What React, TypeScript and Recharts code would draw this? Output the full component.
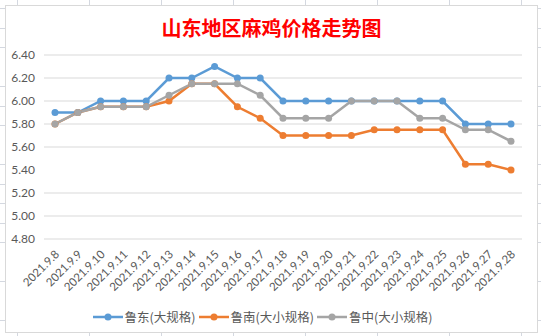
import React from "react";
import { LineChart, Line, XAxis, YAxis, CartesianGrid, Legend } from "recharts";

const dates = [
  "2021.9.8", "2021.9.9", "2021.9.10", "2021.9.11", "2021.9.12", "2021.9.13", "2021.9.14",
  "2021.9.15", "2021.9.16", "2021.9.17", "2021.9.18", "2021.9.19", "2021.9.20", "2021.9.21",
  "2021.9.22", "2021.9.23", "2021.9.24", "2021.9.25", "2021.9.26", "2021.9.27", "2021.9.28",
];
const ludong = [5.9, 5.9, 6.0, 6.0, 6.0, 6.2, 6.2, 6.3, 6.2, 6.2, 6.0, 6.0, 6.0, 6.0, 6.0, 6.0, 6.0, 6.0, 5.8, 5.8, 5.8];
const lunan = [5.8, 5.9, 5.95, 5.95, 5.95, 6.0, 6.15, 6.15, 5.95, 5.85, 5.7, 5.7, 5.7, 5.7, 5.75, 5.75, 5.75, 5.75, 5.45, 5.45, 5.4];
const luzhong = [5.8, 5.9, 5.95, 5.95, 5.95, 6.05, 6.15, 6.15, 6.15, 6.05, 5.85, 5.85, 5.85, 6.0, 6.0, 6.0, 5.85, 5.85, 5.75, 5.75, 5.65];
const yTicks = [4.8, 5.0, 5.2, 5.4, 5.6, 5.8, 6.0, 6.2, 6.4];

const seriesNames = ["鲁东(大规格)", "鲁南(大小规格)", "鲁中(大小规格)"];
const colors = ["#5B9BD5", "#ED7D31", "#A5A5A5"];

const data = dates.map((d, i) => ({ date: d, a: ludong[i], b: lunan[i], c: luzhong[i] }));

const font = "Lato, 'Noto Sans CJK SC', sans-serif";

function XTick({ x, y, payload }: any) {
  return (
    <g transform={`translate(${x + 5},${y + 8})`}>
      <text x={0} y={0} textAnchor="end" transform="rotate(-45)" fontSize={11.5} fill="#595959" fontFamily={font}>
        {payload.value}
      </text>
    </g>
  );
}

function LegendBox() {
  return (
    <div style={{ display: "flex", justifyContent: "center", alignItems: "center", fontFamily: "'Noto Sans CJK SC', sans-serif", fontSize: 12.5, color: "#595959" }}>
      {seriesNames.map((n, i) => (
        <div key={n} style={{ display: "flex", alignItems: "center", marginRight: 3 }}>
          <svg width={30} height={10} style={{ marginRight: 2 }}>
            <line x1={0} y1={5} x2={30} y2={5} stroke={colors[i]} strokeWidth={2.5} />
            <circle cx={15} cy={5} r={3.5} fill={colors[i]} />
          </svg>
          <span>{n}</span>
        </div>
      ))}
    </div>
  );
}

export default function App() {
  return (
    <div
      style={{
        position: "absolute",
        left: 0,
        top: 0,
        width: 541,
        height: 336,
        overflow: "hidden",
        backgroundColor: "#fff",
        backgroundImage:
          "repeating-linear-gradient(to right, transparent 0 17px, #D4D8E0 17px 18px, transparent 18px 72px), repeating-linear-gradient(to bottom, transparent 0 8px, #D4D8E0 8px 9px, transparent 9px 19.5px)",
      }}
    >
      <div
        style={{
          position: "absolute",
          left: 5,
          top: 5,
          width: 531,
          height: 326,
          background: "#fff",
          border: "1px solid #D9D9D9",
        }}
      >
        <div
          style={{
            position: "absolute",
            left: 0,
            top: 9,
            width: 531,
            textAlign: "center",
            color: "#FF0000",
            fontWeight: "bold",
            fontSize: 20,
            fontFamily: "'Noto Sans CJK SC', sans-serif",
            lineHeight: "26px",
          }}
        >
          山东地区麻鸡价格走势图
        </div>
        <LineChart width={531} height={326} data={data} margin={{ top: 49, right: 15, left: 0, bottom: 1 }}>
          <CartesianGrid vertical={false} stroke="#D9D9D9" />
          <XAxis
            dataKey="date"
            axisLine={false}
            tickLine={false}
            interval={0}
            height={68}
            padding={{ left: 11, right: 11 }}
            tick={<XTick />}
          />
          <YAxis
            domain={[4.8, 6.4]}
            ticks={yTicks}
            width={38}
            axisLine={false}
            tickLine={false}
            tickSize={0}
            tickMargin={9}
            tickFormatter={(v) => v.toFixed(2)}
            tick={{ fontSize: 12, fill: "#595959", fontFamily: font }}
          />
          <Legend verticalAlign="bottom" height={24} content={<LegendBox />} />
          <Line dataKey="a" name={seriesNames[0]} stroke={colors[0]} strokeWidth={2.5} dot={{ r: 3.5, fill: colors[0], stroke: colors[0], strokeWidth: 0 }} isAnimationActive={false} />
          <Line dataKey="b" name={seriesNames[1]} stroke={colors[1]} strokeWidth={2.5} dot={{ r: 3.5, fill: colors[1], stroke: colors[1], strokeWidth: 0 }} isAnimationActive={false} />
          <Line dataKey="c" name={seriesNames[2]} stroke={colors[2]} strokeWidth={2.5} dot={{ r: 3.5, fill: colors[2], stroke: colors[2], strokeWidth: 0 }} isAnimationActive={false} />
        </LineChart>
      </div>
    </div>
  );
}
